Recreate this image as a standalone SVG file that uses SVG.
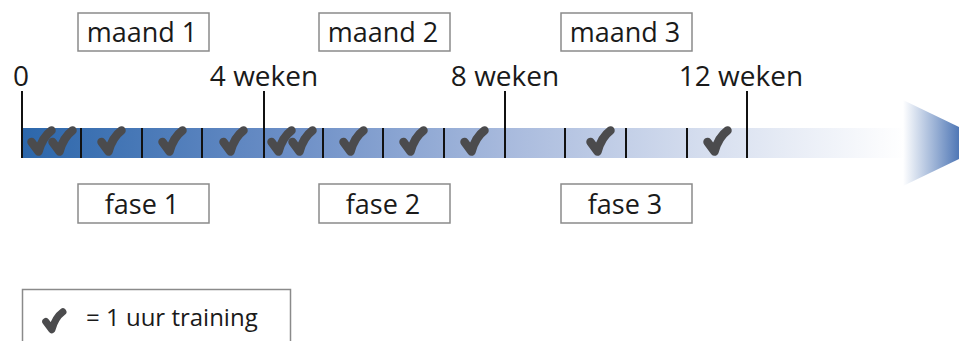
<svg xmlns="http://www.w3.org/2000/svg" width="959" height="341" viewBox="0 0 959 341">
<style>
.box{fill:#fff;stroke:#8a8a8a;stroke-width:1.5}
.lbl{font-family:"Open Sans","Noto Sans",sans-serif;font-size:27px;fill:#1a1a1a;text-anchor:middle}
.wk{font-family:"Open Sans","Noto Sans",sans-serif;font-size:28px;fill:#1a1a1a;text-anchor:middle}
.tick{stroke:#111;stroke-width:2}
.chk{fill:none;stroke:#4b4b4d;stroke-width:8.5;stroke-linecap:round;stroke-linejoin:round}
</style>
<defs>
<linearGradient id="barg" x1="22" y1="0" x2="905" y2="0" gradientUnits="userSpaceOnUse">
<stop offset="0" stop-color="#2c67ab"/>
<stop offset="0.3" stop-color="#6b8ec6"/>
<stop offset="0.55" stop-color="#a8badd"/>
<stop offset="0.78" stop-color="#d7dfef"/>
<stop offset="1" stop-color="#ffffff"/>
</linearGradient>
<linearGradient id="arrg" x1="903" y1="0" x2="962" y2="0" gradientUnits="userSpaceOnUse">
<stop offset="0" stop-color="#ffffff"/>
<stop offset="1" stop-color="#4670b2"/>
</linearGradient>
<g id="chk"><path class="chk" d="M4.5,16 L11.5,25.5 Q15.5,11 24.5,4.5"/></g>
</defs>
<rect width="959" height="341" fill="#fff"/>

<g id="timeline">
<rect x="22" y="128" width="883" height="30" fill="url(#barg)"/>
<polygon points="903,100 903,186 992,143" fill="url(#arrg)"/>
</g>

<g id="checks">
<use href="#chk" transform="translate(27,126)"/>
<use href="#chk" transform="translate(48,126)"/>
<use href="#chk" transform="translate(97,126)"/>
<use href="#chk" transform="translate(158,126)"/>
<use href="#chk" transform="translate(219,126)"/>
<use href="#chk" transform="translate(267,126)"/>
<use href="#chk" transform="translate(288,126)"/>
<use href="#chk" transform="translate(339,126)"/>
<use href="#chk" transform="translate(399,126)"/>
<use href="#chk" transform="translate(460,126)"/>
<use href="#chk" transform="translate(586,126)"/>
<use href="#chk" transform="translate(703,126)"/>
</g>

<g id="connectors">
<line class="tick" x1="22" y1="91" x2="22" y2="158"/>
<line class="tick" x1="264" y1="91" x2="264" y2="158"/>
<line class="tick" x1="505" y1="91" x2="505" y2="158"/>
<line class="tick" x1="747" y1="91" x2="747" y2="158"/>
<line class="tick" x1="81" y1="128" x2="81" y2="158"/>
<line class="tick" x1="142" y1="128" x2="142" y2="158"/>
<line class="tick" x1="202" y1="128" x2="202" y2="158"/>
<line class="tick" x1="323" y1="128" x2="323" y2="158"/>
<line class="tick" x1="383" y1="128" x2="383" y2="158"/>
<line class="tick" x1="444" y1="128" x2="444" y2="158"/>
<line class="tick" x1="565" y1="128" x2="565" y2="158"/>
<line class="tick" x1="626" y1="128" x2="626" y2="158"/>
<line class="tick" x1="687" y1="128" x2="687" y2="158"/>
</g>

<g id="week-labels">
<text class="wk" x="21" y="86">0</text>
<text class="wk" x="264" y="86">4 weken</text>
<text class="wk" x="505" y="86">8 weken</text>
<text class="wk" x="741" y="86">12 weken</text>
</g>

<g id="maand1"><rect class="box" x="78" y="13" width="131" height="38"/><text class="lbl" x="142" y="42">maand 1</text></g>
<g id="maand2"><rect class="box" x="319" y="13" width="131" height="38"/><text class="lbl" x="383" y="42">maand 2</text></g>
<g id="maand3"><rect class="box" x="561" y="13" width="131" height="38"/><text class="lbl" x="625" y="42">maand 3</text></g>

<g id="fase1"><rect class="box" x="78" y="184" width="131" height="39"/><text class="lbl" x="142" y="214">fase 1</text></g>
<g id="fase2"><rect class="box" x="319" y="184" width="131" height="39"/><text class="lbl" x="383" y="214">fase 2</text></g>
<g id="fase3"><rect class="box" x="561" y="184" width="131" height="39"/><text class="lbl" x="625" y="214">fase 3</text></g>

<g id="legend">
<rect class="box" x="22.5" y="289.5" width="268" height="70"/>
<use href="#chk" transform="translate(42,308) scale(0.85)"/>
<text x="86" y="326" font-family="'Open Sans','Noto Sans',sans-serif" font-size="24" fill="#1a1a1a">= 1 uur training</text>
</g>
</svg>
